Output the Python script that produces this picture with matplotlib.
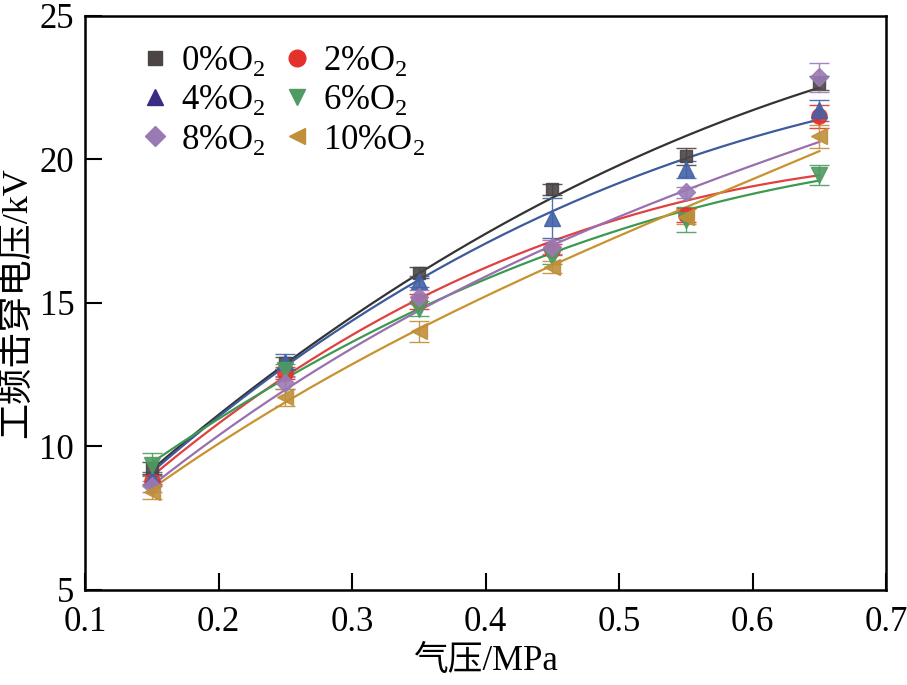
import matplotlib
matplotlib.use("Agg")
import matplotlib.pyplot as plt
from matplotlib.lines import Line2D
import numpy as np

plt.rcParams['font.family'] = ['Liberation Serif', 'Noto Sans CJK SC']
plt.rcParams['mathtext.fontset'] = 'custom'
plt.rcParams['mathtext.rm'] = 'Liberation Serif'

pressure = [0.15, 0.25, 0.35, 0.45, 0.55, 0.65]

labels = ['0%O$_2$', '2%O$_2$', '4%O$_2$', '6%O$_2$', '8%O$_2$', '10%O$_2$']

# measured breakdown voltage (kV)
v0 = [9.25, 12.9, 16.05, 18.95, 20.1, 22.65]
v2 = [8.8, 12.55, 15.05, 16.85, 18.05, 21.5]
v4 = [8.9, 12.95, 15.75, 17.95, 19.65, 21.7]
v6 = [9.35, 12.65, 14.8, 16.6, 17.9, 19.45]
v8 = [8.6, 12.2, 15.2, 16.95, 18.85, 22.85]
v10 = [8.4, 11.7, 14.0, 16.25, 18.0, 20.8]

# error bars (kV)
e0 = [0.2, 0.2, 0.2, 0.2, 0.3, 0.25]
e2 = [0.2, 0.2, 0.25, 0.2, 0.25, 0.4]
e4 = [0.2, 0.25, 0.2, 0.7, 0.3, 0.35]
e6 = [0.4, 0.2, 0.25, 0.25, 0.45, 0.35]
e8 = [0.2, 0.2, 0.25, 0.25, 0.2, 0.5]
e10 = [0.25, 0.3, 0.35, 0.2, 0.25, 0.4]

# fitted curve values read at each pressure
f0 = [9.2, 12.85, 16.05, 18.66, 20.8, 22.5]
f2 = [8.95, 12.45, 15.15, 17.1, 18.6, 19.43]
f4 = [9.1, 12.8, 15.8, 18.17, 20.05, 21.38]
f6 = [9.42, 12.4, 14.75, 16.74, 18.24, 19.25]
f8 = [8.6, 12.05, 14.7, 16.9, 19.04, 20.57]
f10 = [8.5, 11.6, 14.05, 16.25, 18.4, 20.26]

values = [v0, v2, v4, v6, v8, v10]
errors = [e0, e2, e4, e6, e8, e10]
fits = [f0, f2, f4, f6, f8, f10]
markers = ['s', 'o', '^', 'v', 'D', '<']
msizes = [9, 11, 11, 11, 9, 11]
marker_colors = ['#4b4545', '#e5312b', '#4262a6', '#4f9b62', '#9a7ab4', '#c08f38']
legend_colors = ['#4b4545', '#e5312b', '#3a2b85', '#4f9b62', '#9a7ab4', '#c08f38']
line_colors = ['#333333', '#e0403f', '#3d5a9c', '#3c9a50', '#9a6fb0', '#c8922e']

fig = plt.figure(figsize=(9.07, 6.85), dpi=100)
ax = fig.add_axes([0.094, 0.139, 0.883, 0.838])

xs = np.linspace(0.15, 0.65, 200)
for i in range(6):
    coef = np.polyfit(pressure, fits[i], 3)
    ax.plot(xs, np.polyval(coef, xs), color=line_colors[i], lw=1.6, zorder=2)

for i in range(6):
    ax.errorbar(pressure, values[i], yerr=errors[i], fmt=markers[i], ms=msizes[i],
                color=marker_colors[i], ecolor=marker_colors[i], elinewidth=1,
                capsize=7, capthick=1, alpha=0.9, zorder=3)

ax.set_xlim(0.1, 0.7)
ax.set_ylim(5, 25)
ax.set_xticks([0.1, 0.2, 0.3, 0.4, 0.5, 0.6, 0.7])
ax.set_yticks([5, 10, 15, 20, 25])
ax.tick_params(direction='in', length=12, width=1.5, labelsize=25, top=False, right=False)
ax.tick_params(axis='x', pad=12)
ax.tick_params(axis='y', pad=8)
for s in ax.spines.values():
    s.set_linewidth(1.8)

ax.set_xlabel('气压/MPa', fontsize=25, labelpad=4)
ax.set_ylabel('工频击穿电压/kV', fontsize=26, labelpad=4)

handles = [Line2D([], [], ls='none', marker=markers[i], ms=msizes[i] + 1,
                  color=legend_colors[i]) for i in range(6)]
order = [0, 2, 4, 1, 3, 5]
ax.legend([handles[k] for k in order], [labels[k] for k in order], ncol=2, frameon=False,
          loc='upper left', bbox_to_anchor=(0.022, 1.005), fontsize=25,
          handletextpad=0.15, columnspacing=0.3, labelspacing=0.15, handlelength=1.2)

fig.savefig('out.png', dpi=100)
